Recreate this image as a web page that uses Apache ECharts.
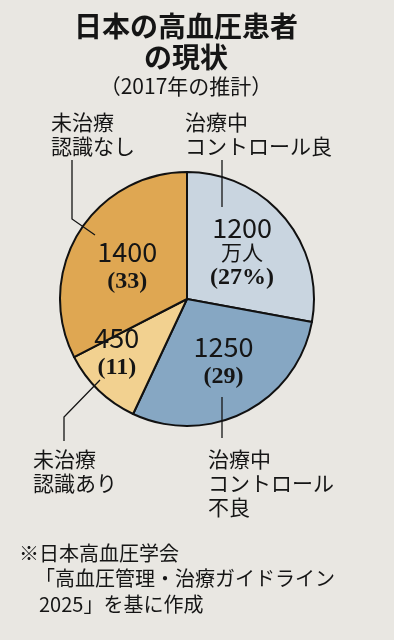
<!DOCTYPE html>
<html><head><meta charset="utf-8">
<script src="https://cdn.jsdelivr.net/npm/echarts@6/dist/echarts.min.js"></script>
<style>html,body{margin:0;padding:0;background:#e9e7e2;}#c{width:394px;height:640px;}</style>
</head><body><div id="c"></div>
<script>
// ---- data ----
const categories = ['治療中\nコントロール良', '治療中\nコントロール\n不良', '未治療\n認識あり', '未治療\n認識なし'];
const values = [1200, 1250, 450, 1400];          // 万人
const percents = [27, 29, 11, 33];                // %
const unitLabel = '万人';
const titleText = '日本の高血圧患者\nの現状';
const subtitleText = '（2017年の推計）';
const noteLines = ['※日本高血圧学会', '「高血圧管理・治療ガイドライン', '2025」を基に作成'];

// ---- style / layout ----
const sliceColors = ['#c9d5e0', '#86a7c3', '#f2d190', '#dfa752'];
const insideOffsets = [[4, -4], [6, 4], [-24, 6], [-3, 2]];
const outsideLabelPos = [[185, 110], [208, 447], [33, 447], [51, 110]];
const leaderPts = [
  [[222, 160], [222, 207]],
  [[222, 397], [222, 438]],
  [[100, 380], [64, 417], [64, 441]],
  [[72, 160], [72, 219], [95, 235]]
];
const CENTER = [187, 299], R = 127;
const CJK = '"Noto Sans CJK JP", "Noto Sans", sans-serif';

const pieData = categories.map((n, i) => ({ name: n, value: values[i], itemStyle: { color: sliceColors[i] } }));

const chart = echarts.init(document.getElementById('c'), null, { renderer: 'canvas' });
chart.setOption({
  backgroundColor: '#e9e7e2',
  animation: false,
  title: {
    text: titleText, subtext: subtitleText,
    left: 181, top: 6, textAlign: 'center', itemGap: 2,
    textStyle: { fontFamily: CJK, fontSize: 28, fontWeight: 'bold', lineHeight: 31, color: '#151515' },
    subtextStyle: { fontFamily: CJK, fontSize: 21, color: '#151515', lineHeight: 22 }
  },
  series: [
    {
      type: 'pie', center: CENTER, radius: [0, R], startAngle: 90, clockwise: true,
      silent: true,
      data: pieData,
      itemStyle: { borderColor: '#111', borderWidth: 2 },
      label: {
        position: 'inside',
        formatter: p => {
          const i = p.dataIndex;
          if (i === 0) return '{n|' + values[i] + '}\n{u|' + unitLabel + '}\n{p|(' + percents[i] + '%)}';
          return '{n|' + values[i] + '}\n{p|(' + percents[i] + ')}';
        },
        rich: {
          n: { fontFamily: CJK, fontSize: 27, lineHeight: 30, color: '#151515' },
          u: { fontFamily: CJK, fontSize: 21, lineHeight: 20, color: '#151515' },
          p: { fontFamily: '"Liberation Serif", serif', fontWeight: 'bold', fontSize: 24, lineHeight: 30, color: '#151515' }
        }
      },
      labelLine: { show: false },
      labelLayout: p => ({ dx: insideOffsets[p.dataIndex][0], dy: insideOffsets[p.dataIndex][1] })
    },
    {
      type: 'pie', center: CENTER, radius: [0, R], startAngle: 90, clockwise: true,
      silent: true, z: 3,
      data: categories.map((n, i) => ({ name: n, value: values[i] })),
      itemStyle: { color: 'rgba(0,0,0,0)', borderWidth: 0 },
      label: {
        position: 'outside', formatter: '{b}', overflow: 'none', width: 220,
        fontFamily: CJK, fontSize: 21, lineHeight: 24, color: '#151515', align: 'left'
      },
      labelLine: { show: true, lineStyle: { color: '#151515', width: 1.3 } },
      labelLayout: p => {
        const i = p.dataIndex;
        return { x: outsideLabelPos[i][0], y: outsideLabelPos[i][1], align: 'left', verticalAlign: 'top', labelLinePoints: leaderPts[i] };
      }
    }
  ],
  graphic: [
    { type: 'text', left: 19, top: 543, style: { text: noteLines[0], font: '20px ' + CJK, fill: '#151515' } },
    { type: 'text', left: 35, top: 568, style: { text: noteLines[1], font: '20px ' + CJK, fill: '#151515' } },
    { type: 'text', left: 39, top: 594, style: { text: noteLines[2], font: '20px ' + CJK, fill: '#151515' } }
  ]
});
</script>
</body></html>
